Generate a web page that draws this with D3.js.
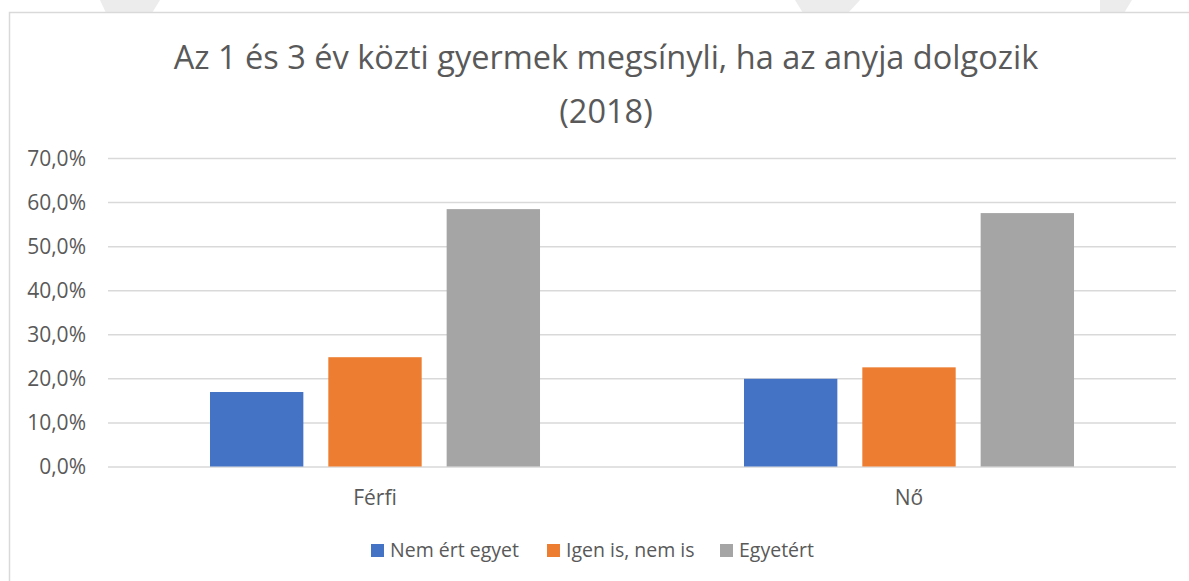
<!DOCTYPE html>
<html>
<head>
<meta charset="utf-8">
<script src="https://cdn.jsdelivr.net/npm/d3@7"></script>
<style>
  body { margin: 0; background: #fff; }
  svg text { font-family: "Open Sans", sans-serif; fill: #595959; }
</style>
</head>
<body>
<div id="chart"></div>
<script>
// data
var categories = ['Férfi', 'Nő']
var seriesNames = ['Nem ért egyet', 'Igen is, nem is', 'Egyetért']
var nemErtEgyet = [16.9, 19.9]
var igenIsNemIs = [24.8, 22.5]
var egyetert = [58.4, 57.5]
var yTicks = [0, 10, 20, 30, 40, 50, 60, 70]
var titleLines = ['Az 1 és 3 év közti gyermek megsínyli, ha az anyja dolgozik', '(2018)']

var seriesValues = [nemErtEgyet, igenIsNemIs, egyetert]
var colors = ['#4472C4', '#ED7D31', '#A5A5A5']

var width = 1189, height = 581
var plot = { left: 108, right: 1176, top: 158, bottom: 466.5 }

var svg = d3.select('#chart').append('svg')
  .attr('width', width)
  .attr('height', height)

// faint watermark bits peeking above the chart box
var wm = svg.append('g').attr('fill', '#ececec')
wm.append('path').attr('d', 'M100,0 L160,0 L152,13 L106,13 Z')
wm.append('path').attr('d', 'M795,0 L860,0 L848,13 L803,13 Z')
wm.append('path').attr('d', 'M1100,0 L1132,0 L1124,13 L1100,13 Z')

// chart box
svg.append('rect')
  .attr('x', 9.5).attr('y', 12.5)
  .attr('width', width + 20).attr('height', height + 20)
  .attr('fill', '#fff')
  .attr('stroke', '#D9D9D9')
  .attr('stroke-width', 1.5)

// title
svg.append('g').selectAll('text')
  .data(titleLines)
  .enter().append('text')
    .attr('x', 606)
    .attr('y', function(d, i) { return 69 + i * 54 })
    .attr('text-anchor', 'middle')
    .style('font-size', '32.5px')
    .text(function(d) { return d })

var x0 = d3.scaleBand()
  .domain(categories)
  .range([plot.left, plot.right])
  .paddingInner(0.382)
  .paddingOuter(0.191)

var x1 = d3.scaleBand()
  .domain(seriesNames)
  .range([0, x0.bandwidth()])
  .paddingInner(0.211)

var y = d3.scaleLinear()
  .domain([0, 70])
  .range([plot.bottom, plot.top])

// gridlines
var yAxis = d3.axisLeft(y)
  .tickValues(yTicks)
  .tickSize(-(plot.right - plot.left))
  .tickPadding(22)
  .tickFormat(function(d) { return d3.format('.1f')(d).replace('.', ',') + '%' })

var gy = svg.append('g')
  .attr('transform', 'translate(' + plot.left + ',0)')
  .call(yAxis)
gy.select('.domain').remove()
gy.selectAll('line').attr('stroke', '#D9D9D9').attr('stroke-width', 1.5)
gy.selectAll('text').style('font-size', '21px').attr('dy', '0.35em')

// bars
var groups = svg.append('g').selectAll('g')
  .data(categories)
  .enter().append('g')
    .attr('transform', function(d) { return 'translate(' + x0(d) + ',0)' })

groups.selectAll('rect')
  .data(function(d, ci) {
    return seriesNames.map(function(s, si) {
      return { series: s, value: seriesValues[si][ci], color: colors[si] }
    })
  })
  .enter().append('rect')
    .attr('x', function(d) { return x1(d.series) })
    .attr('y', function(d) { return y(d.value) })
    .attr('width', x1.bandwidth())
    .attr('height', function(d) { return y(0) - y(d.value) })
    .attr('fill', function(d) { return d.color })

// category axis
var xAxis = d3.axisBottom(x0).tickSize(0).tickPadding(24)
var gx = svg.append('g')
  .attr('transform', 'translate(0,' + plot.bottom + ')')
  .call(xAxis)
  .attr('font-size', 21)
gx.select('.domain').remove()
gx.selectAll('text').attr('font-size', 21).style('font-size', '21px')

// legend
var legendX = [371, 547, 720]
var legend = svg.append('g').selectAll('g')
  .data(seriesNames)
  .enter().append('g')
    .attr('transform', function(d, i) { return 'translate(' + legendX[i] + ',544)' })
legend.append('rect')
  .attr('width', 13).attr('height', 13)
  .attr('fill', function(d, i) { return colors[i] })
legend.append('text')
  .attr('x', 19).attr('y', 6.5).attr('dy', '0.35em')
  .style('font-size', '19.5px')
  .text(function(d) { return d })
</script>
</body>
</html>
